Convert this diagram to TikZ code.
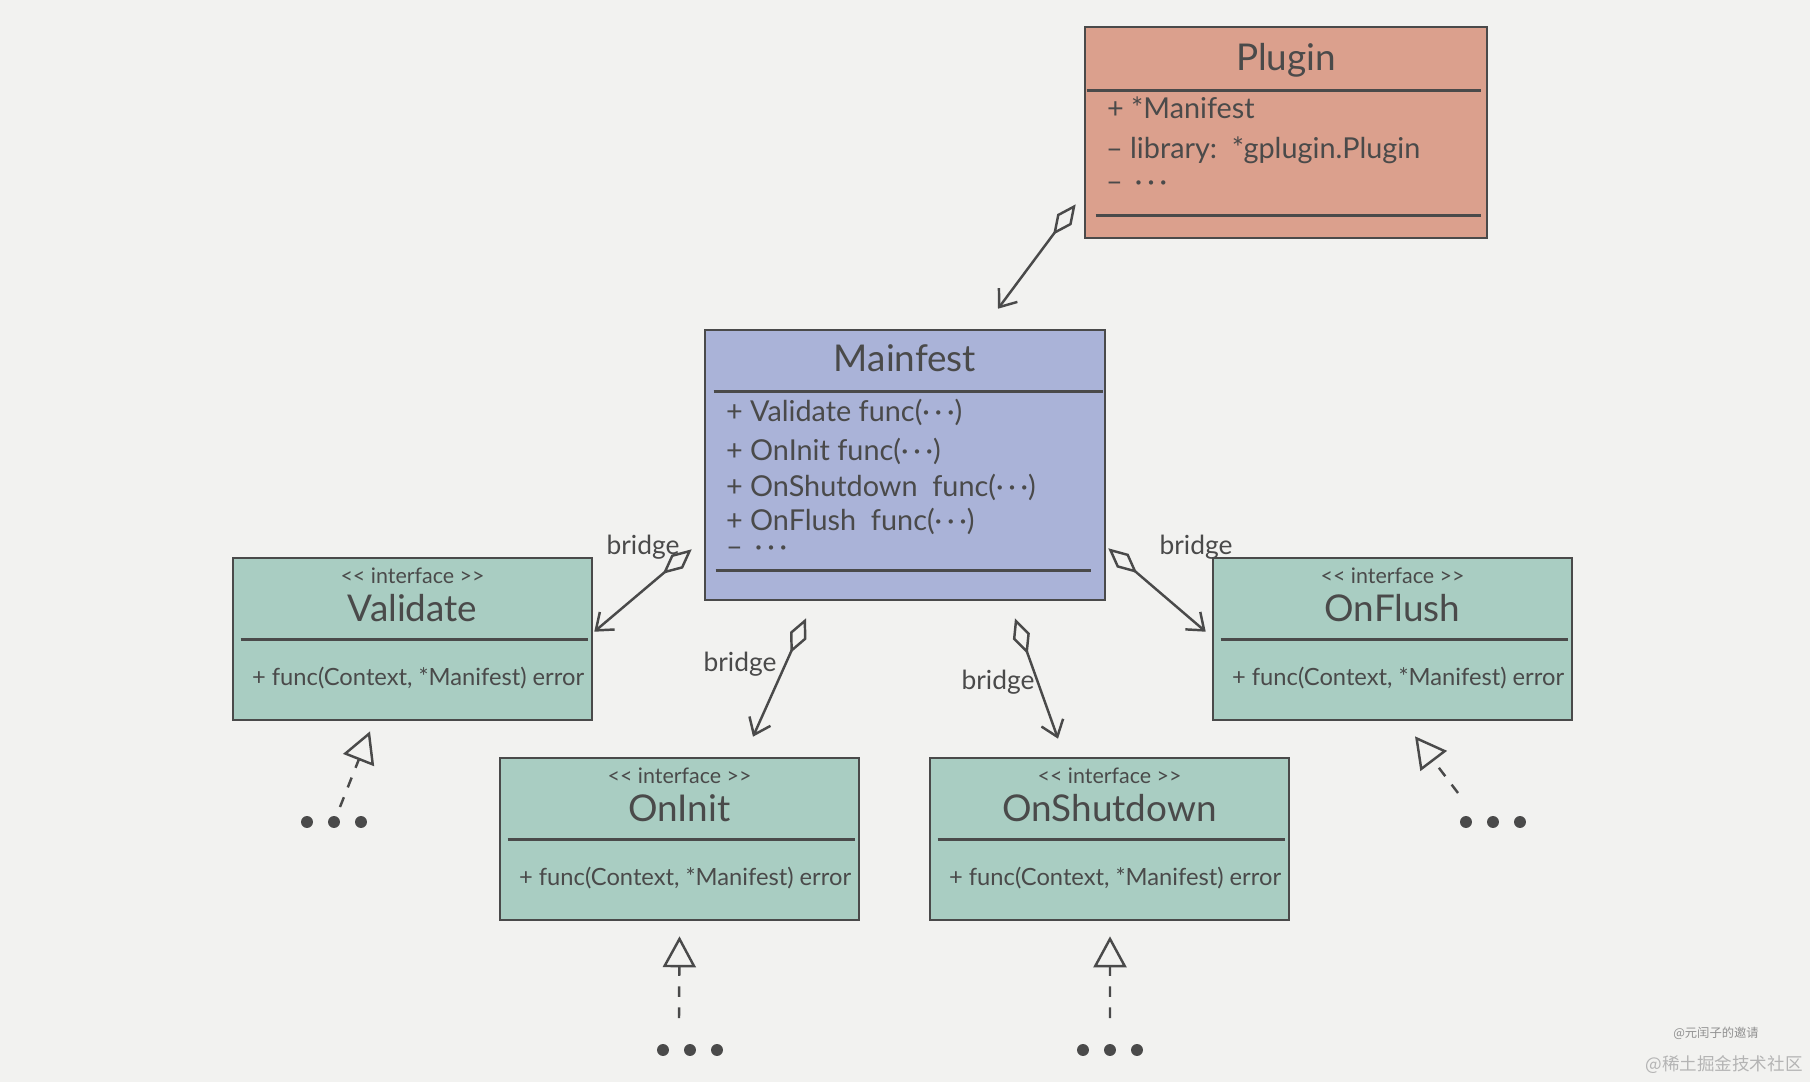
\documentclass[tikz,border=0pt]{standalone}
\usepackage{fontspec}
\setmainfont{Lato}
\newfontfamily\cjkfont{Noto Sans CJK SC}
\usepackage{tikz}
\usetikzlibrary{arrows.meta, positioning, calc}

\definecolor{paper}{HTML}{F2F2F0}
\definecolor{pluginred}{HTML}{DBA08D}
\definecolor{mainblue}{HTML}{AAB3D8}
\definecolor{ifacegreen}{HTML}{A9CDC2}
\definecolor{ink}{HTML}{4A4A4A}
\definecolor{markgray}{HTML}{B4B4B4}

\tikzset{
    classbox/.style={draw=ink, line width=1.5pt, inner sep=0pt},
    ifacebox/.style={classbox, fill=ifacegreen, minimum width=7.18cm, minimum height=3.24cm},
    titletext/.style={text=ink, inner sep=0pt, anchor=base, font=\fontsize{21}{25}\selectfont},
    stereotext/.style={text=ink, inner sep=0pt, anchor=base, font=\fontsize{12.2}{14}\selectfont},
    membertext/.style={text=ink, inner sep=0pt, anchor=base west, font=\fontsize{16.4}{19}\selectfont},
    methodtext/.style={text=ink, inner sep=0pt, anchor=base west, font=\fontsize{13.5}{16}\selectfont},
    sepline/.style={draw=ink, line width=1.5pt},
    bridge/.style={draw=ink, line width=1.4pt, arrows={Diamond[open, length=0.76cm, width=0.36cm]-Straight Barb[length=0.3cm, width=0.46cm]}},
    bridgelabel/.style={text=ink, inner sep=0pt, font=\fontsize{15}{18}\selectfont},
    realize/.style={draw=ink, line width=1.4pt, dash pattern=on 6pt off 6pt, arrows={-Triangle[open, length=0.62cm, width=0.66cm]}},
    moredots/.style={inner sep=0pt, minimum size=0pt},
}

\begin{document}
\begin{tikzpicture}[x=0.02cm, y=-0.02cm]
    \fill[paper] (0,0) rectangle (1810,1082);
    \useasboundingbox (0,0) rectangle (1810,1082);

    % Plugin
    \node[classbox, fill=pluginred, minimum width=8.04cm, minimum height=4.22cm] (plugin) at (1286,132.5) {};
    \node[titletext] (plugintitle) at ($(plugin.north)+(0,45)$) {Plugin};
    \draw[sepline] ($(plugin.north west)+(3,65)$) -- ($(plugin.north east)+(-7,65)$);
    \node[membertext] (pluginattr1) at ($(plugin.north west)+(23,93)$) {+ *Manifest};
    \node[membertext] (pluginattr2) at ($(plugin.north west)+(22,133)$) {– library:\ \ *gplugin.Plugin};
    \node[membertext] (pluginattr3) at ($(plugin.north west)+(22,166)$) {– \,·\,·\,·};
    \draw[sepline] ($(plugin.north west)+(12,190)$) -- ($(plugin.north east)+(-7,190)$);

    % Mainfest
    \node[classbox, fill=mainblue, minimum width=8cm, minimum height=5.4cm] (mainfest) at (905,465) {};
    \node[titletext] (mainfesttitle) at ($(mainfest.north)+(0,43)$) {Mainfest};
    \draw[sepline] ($(mainfest.north west)+(10,63)$) -- ($(mainfest.north east)+(-3,63)$);
    \node[membertext] (mainfestm1) at ($(mainfest.north west)+(22,93)$) {+ Validate func(·\,·\,·)};
    \node[membertext] (mainfestm2) at ($(mainfest.north west)+(22,132)$) {+ OnInit func(·\,·\,·)};
    \node[membertext] (mainfestm3) at ($(mainfest.north west)+(22,168)$) {+ OnShutdown\ \ func(·\,·\,·)};
    \node[membertext] (mainfestm4) at ($(mainfest.north west)+(22,202)$) {+ OnFlush\ \ func(·\,·\,·)};
    \node[membertext] (mainfestm5) at ($(mainfest.north west)+(22,228)$) {– \,·\,·\,·};
    \draw[sepline] ($(mainfest.north west)+(12,242)$) -- ($(mainfest.north east)+(-15,242)$);

    % interfaces
    \node[ifacebox] (validate) at (412.5,639) {};
    \node[stereotext] (validatestereo) at ($(validate.north)+(0,27)$) {<{}< interface >{}>};
    \node[titletext] (validatetitle) at ($(validate.north)+(0,65)$) {Validate};
    \draw[sepline] ($(validate.north west)+(9,83)$) -- ($(validate.north east)+(-5,83)$);
    \node[methodtext] (validatemethod) at ($(validate.north west)+(20,129)$) {+\ func(Context, *Manifest) error};

    \node[ifacebox] (onflush) at (1392.5,639) {};
    \node[stereotext] (onflushstereo) at ($(onflush.north)+(0,27)$) {<{}< interface >{}>};
    \node[titletext] (onflushtitle) at ($(onflush.north)+(0,65)$) {OnFlush};
    \draw[sepline] ($(onflush.north west)+(9,83)$) -- ($(onflush.north east)+(-5,83)$);
    \node[methodtext] (onflushmethod) at ($(onflush.north west)+(20,129)$) {+\ func(Context, *Manifest) error};

    \node[ifacebox] (oninit) at (679.5,839) {};
    \node[stereotext] (oninitstereo) at ($(oninit.north)+(0,27)$) {<{}< interface >{}>};
    \node[titletext] (oninittitle) at ($(oninit.north)+(0,65)$) {OnInit};
    \draw[sepline] ($(oninit.north west)+(9,83)$) -- ($(oninit.north east)+(-5,83)$);
    \node[methodtext] (oninitmethod) at ($(oninit.north west)+(20,129)$) {+\ func(Context, *Manifest) error};

    \node[ifacebox] (onshutdown) at (1109.5,839) {};
    \node[stereotext] (onshutdownstereo) at ($(onshutdown.north)+(0,27)$) {<{}< interface >{}>};
    \node[titletext] (onshutdowntitle) at ($(onshutdown.north)+(0,65)$) {OnShutdown};
    \draw[sepline] ($(onshutdown.north west)+(9,83)$) -- ($(onshutdown.north east)+(-5,83)$);
    \node[methodtext] (onshutdownmethod) at ($(onshutdown.north west)+(20,129)$) {+\ func(Context, *Manifest) error};

    % bridges
    \draw[bridge] ($(plugin.south west)+(-8,-35)$) -- ($(mainfest.north)+(93,-20)$);
    \draw[bridge] ($(mainfest.south west)+(-12,-52)$) -- ($(validate.north east)+(1,75)$);
    \draw[bridge] ($(mainfest.south east)+(2,-53)$) -- ($(onflush.north west)+(-6,75)$);
    \draw[bridge] ($(mainfest.south)+(-99,17)$) -- ($(oninit.north)+(73.5,-20)$);
    \draw[bridge] ($(mainfest.south)+(110,17)$) -- ($(onshutdown.north)+(-51.5,-18)$);
    \node[bridgelabel] (bridgevalidate) at (643,547) {bridge};
    \node[bridgelabel] (bridgeonflush) at (1196,547) {bridge};
    \node[bridgelabel] (bridgeoninit) at (740,664) {bridge};
    \node[bridgelabel] (bridgeonshutdown) at (998,682) {bridge};

    % more implementations
    \node[moredots] (validatemore) at (334,822) {};
    \node[moredots] (onflushmore) at (1493,822) {};
    \node[moredots] (oninitmore) at (690,1050) {};
    \node[moredots] (onshutdownmore) at (1110,1050) {};
    \fill[ink] (validatemore.center) circle (3.4pt) ++(-27,0) circle (3.4pt) ++(54,0) circle (3.4pt);
    \fill[ink] (onflushmore.center) circle (3.4pt) ++(-27,0) circle (3.4pt) ++(54,0) circle (3.4pt);
    \fill[ink] (oninitmore.center) circle (3.4pt) ++(-27,0) circle (3.4pt) ++(54,0) circle (3.4pt);
    \fill[ink] (onshutdownmore.center) circle (3.4pt) ++(-27,0) circle (3.4pt) ++(54,0) circle (3.4pt);
    \draw[realize] ($(validatemore.center)+(6,-15)$) -- ($(validate.south)+(-42.5,10)$);
    \draw[realize] ($(onflushmore.center)+(-35,-29)$) -- ($(onflush.south)+(22.5,15)$);
    \draw[realize] ($(oninitmore.center)+(-11,-32)$) -- ($(oninit.south)+(0,15)$);
    \draw[realize] ($(onshutdownmore.center)+(0,-32)$) -- ($(onshutdown.south)+(0.5,15)$);

    \node[text=markgray!80!black, font=\cjkfont\fontsize{7}{8}\selectfont] (markauthor) at (1716,1033) {@元闰子的邀请};
    \node[text=markgray, font=\cjkfont\fontsize{10}{12}\selectfont] (marksite) at (1724,1065) {@稀土掘金技术社区};
\end{tikzpicture}
\end{document}
